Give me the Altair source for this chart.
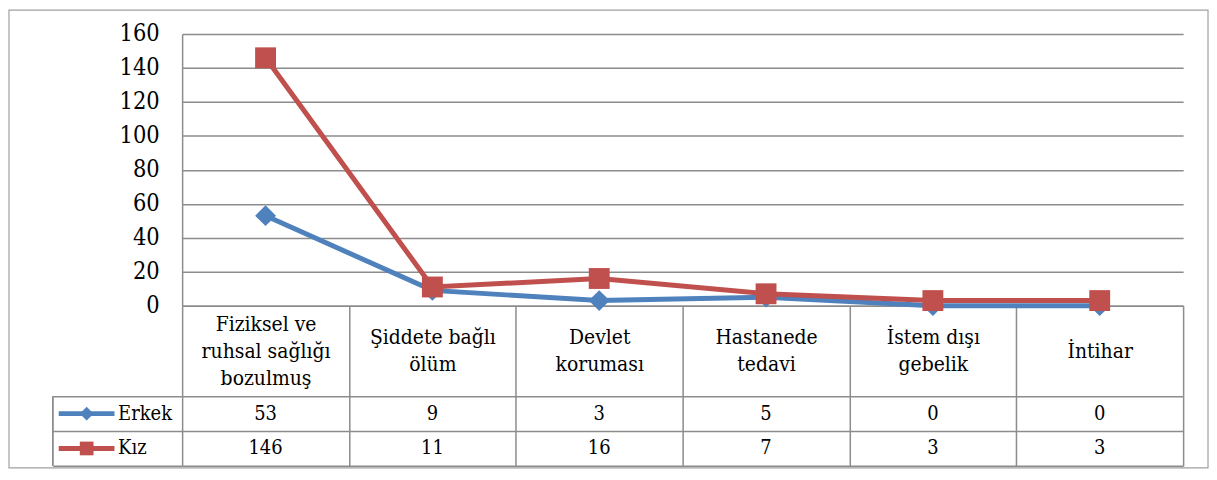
import altair as alt
import pandas as pd

# ---- data ----
categories = [
    "Fiziksel ve|ruhsal sağlığı|bozulmuş",
    "Şiddete bağlı|ölüm",
    "Devlet|koruması",
    "Hastanede|tedavi",
    "İstem dışı|gebelik",
    "İntihar",
]
series = ["Erkek", "Kız"]
erkek = [53, 9, 3, 5, 0, 0]
kiz = [146, 11, 16, 7, 3, 3]
y_ticks = [0, 20, 40, 60, 80, 100, 120, 140, 160]

colors = ["#4F81BD", "#C0504D"]
shapes = ["diamond", "square"]
GRID = "#8C8C8C"
FRAME = "#A0A0A0"
FONT = "'DejaVu Serif Condensed', 'DejaVu Serif'"
FS = 20

rows = []
for s, vals in zip(series, [erkek, kiz]):
    for c, v in zip(categories, vals):
        rows.append({"category": c, "series": s, "value": v})
df = pd.DataFrame(rows)
legend_df = pd.DataFrame({"series": series})
frame_df = pd.DataFrame({"frame": [0]})

W, H = 1006, 273

color_scale = alt.Scale(domain=series, range=colors)
shape_scale = alt.Scale(domain=series, range=shapes)

# multi-line header labels, vertically centred in the header cell
label_baseline = {
    "condition": [
        {"test": "length(split(datum.value, '|')) == 3", "value": "line-bottom"},
        {"test": "length(split(datum.value, '|')) == 1", "value": "line-top"},
    ],
    "value": "middle",
}

# ---- chart A: line chart + header row (x axis labels) ----
x_axis = alt.Axis(
    orient="bottom", title=None, labelExpr="split(datum.label, '|')",
    labelFont=FONT, labelFontSize=21, labelLineHeight=27, labelColor="black",
    labelAngle=0, labelBaseline=label_baseline, labelPadding=-59, labelLimit=400,
    labelOverlap=False, labelFlush=False,
    ticks=True, tickBand="extent", tickSize=91, tickColor=GRID, tickWidth=1.5,
    domain=True, domainColor=GRID, domainWidth=1.5, grid=False,
)
y_axis = alt.Axis(
    orient="left", title=None, values=y_ticks, grid=True, gridColor=GRID,
    gridWidth=1.5, ticks=False, domain=True, domainColor=GRID, domainWidth=1.5,
    labelFont=FONT, labelFontSize=23.5, labelColor="black", labelPadding=23,
    labelFlush=False, labelOverlap=False,
)
xs = alt.Scale(type="band", domain=categories, paddingInner=0, paddingOuter=0)
ys = alt.Scale(domain=[0, 160], nice=False)

base = alt.Chart(df)
line = base.mark_line(strokeWidth=5).encode(
    x=alt.X("category:N", scale=xs, bandPosition=0.5, axis=x_axis, sort=categories),
    y=alt.Y("value:Q", scale=ys, axis=y_axis),
    color=alt.Color("series:N", scale=color_scale, legend=None),
    detail="series:N",
)
points = base.mark_point(filled=True, opacity=1, size=440).encode(
    x=alt.X("category:N", scale=xs, bandPosition=0.5, axis=x_axis, sort=categories),
    y=alt.Y("value:Q", scale=ys, axis=y_axis),
    color=alt.Color("series:N", scale=color_scale, legend=None),
    shape=alt.Shape("series:N", scale=shape_scale, legend=None),
)

chartA = alt.layer(line, points).properties(width=W, height=H)

# ---- chart B: data table rows (+ legend cells and outer frame) ----
bx = alt.Scale(type="band", domain=categories, paddingInner=0, paddingOuter=0)
by = alt.Scale(type="band", domain=series, paddingInner=0, paddingOuter=0)
cells = alt.Chart(df).mark_text(font=FONT, fontSize=FS, color="black", baseline="middle").encode(
    x=alt.X("category:N", scale=bx, sort=categories, axis=alt.Axis(
        orient="bottom", grid=True, tickBand="extent", labels=False, ticks=False,
        domain=False, title=None, gridColor=GRID, gridWidth=1.5)),
    y=alt.Y("series:N", scale=by, sort=series, axis=alt.Axis(
        orient="left", grid=True, tickBand="extent", labels=False, ticks=True,
        tickSize=130, tickColor=GRID, tickWidth=1.5, gridColor=GRID, gridWidth=1.5,
        domain=False, title=None)),
    text="value:Q",
)

leg_x = alt.Scale(domain=[0, 1], range=[-130, 0])
leg = alt.Chart(legend_df)
leg_border = leg.mark_rule(color=GRID, strokeWidth=1.5).encode(
    x=alt.XDatum(0, type="quantitative", scale=leg_x, axis=None),
)
leg_line = leg.mark_rule(strokeWidth=5).encode(
    x=alt.XDatum(0.046, type="quantitative", scale=leg_x, axis=None),
    x2=alt.X2Datum(0.477),
    y=alt.Y("series:N", scale=by, sort=series, axis=None),
    color=alt.Color("series:N", scale=color_scale, legend=None),
)
leg_pts = leg.mark_point(filled=True, opacity=1, size=190).encode(
    x=alt.XDatum(0.262, type="quantitative", scale=leg_x, axis=None),
    y=alt.Y("series:N", scale=by, sort=series, axis=None),
    color=alt.Color("series:N", scale=color_scale, legend=None),
    shape=alt.Shape("series:N", scale=shape_scale, legend=None),
)
leg_txt = leg.mark_text(font=FONT, fontSize=FS, color="black", align="left", baseline="middle").encode(
    x=alt.XDatum(0.505, type="quantitative", scale=leg_x, axis=None),
    y=alt.Y("series:N", scale=by, sort=series, axis=None),
    text="series:N",
)
legend_group = alt.layer(leg_border, leg_line, leg_pts, leg_txt)

frame = alt.Chart(frame_df).mark_rect(filled=False, stroke=FRAME, strokeWidth=1.2).encode(
    x=alt.XDatum(0, type="quantitative", scale=alt.Scale(domain=[0, 1], range=[-174, 1031]), axis=None),
    x2=alt.X2Datum(1),
    y=alt.YDatum(0, type="quantitative", scale=alt.Scale(domain=[0, 1], range=[-388, 72]), axis=None),
    y2=alt.Y2Datum(1),
)

chartB = alt.layer(cells, legend_group, frame).resolve_scale(
    x="independent", y="independent"
).properties(width=W, height=70)

chart = alt.vconcat(chartA, chartB, spacing=91, bounds="flush").properties(
    padding=0
).configure_view(stroke=None)

chart.save("out.html", embed_options={"renderer": "svg", "actions": False})
